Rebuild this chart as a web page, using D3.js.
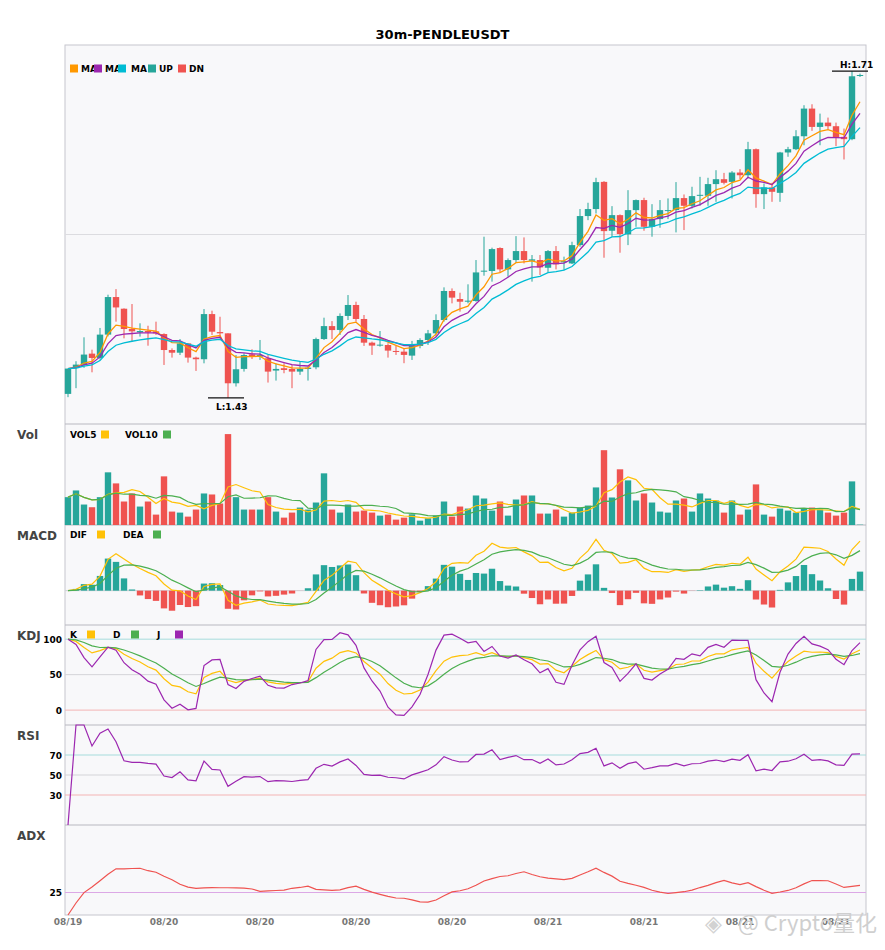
<!DOCTYPE html>
<html>
<head>
<meta charset="utf-8">
<script src="https://cdn.jsdelivr.net/npm/d3@7"></script>
<style>
  body { margin: 0; background: #fff; }
  svg { display: block; font-family: "DejaVu Sans", sans-serif; }
</style>
</head>
<body>
<svg id="chart" width="885" height="950"></svg>
<script>
// 30m candles, PENDLE/USDT
var opens = [1.4334,1.4555,1.4585,1.4679,1.4642,1.4842,1.5164,1.5064,1.4890,1.4861,
  1.4873,1.4870,1.4847,1.4710,1.4687,1.4767,1.4645,1.4631,1.5018,1.4864,
  1.4853,1.4425,1.4548,1.4673,1.4653,1.4639,1.4534,1.4554,1.4548,1.4525,
  1.4548,1.4562,1.4804,1.4915,1.4882,1.5002,1.5096,1.4976,1.4773,1.4748,
  1.4753,1.4702,1.4696,1.4662,1.4745,1.4796,1.4853,1.4967,1.5216,1.5147,
  1.5124,1.5130,1.5384,1.5387,1.5584,1.5401,1.5481,1.5558,1.5475,1.5481,
  1.5415,1.5558,1.5461,1.5452,1.5609,1.5858,1.5918,1.6151,1.5732,1.5866,
  1.5701,1.5909,1.5995,1.5766,1.5832,1.5903,1.5909,1.6012,1.5946,1.6032,
  1.6032,1.6132,1.6174,1.6151,1.6231,1.6208,1.6431,1.6046,1.6103,1.6057,
  1.6403,1.6431,1.6542,1.6779,1.6622,1.6659,1.6628,1.6537,1.6517,1.7062];
var highs = [1.4551,1.4614,1.4819,1.4713,1.4899,1.5184,1.5232,1.5067,1.5104,1.4939,
  1.4918,1.4953,1.4853,1.4724,1.4804,1.4767,1.4653,1.5061,1.5047,1.4995,
  1.4853,1.4667,1.4682,1.4716,1.4796,1.4667,1.4596,1.4596,1.4582,1.4611,
  1.4568,1.4816,1.4987,1.4958,1.5024,1.5181,1.5124,1.5010,1.4782,1.4873,
  1.4768,1.4745,1.4725,1.4788,1.4811,1.4882,1.5016,1.5247,1.5238,1.5201,
  1.5273,1.5481,1.5681,1.5587,1.5590,1.5495,1.5686,1.5675,1.5524,1.5524,
  1.5567,1.5601,1.5510,1.5638,1.5918,1.5972,1.6186,1.6157,1.5943,1.5872,
  1.6080,1.6000,1.6015,1.5960,1.5995,1.6009,1.6149,1.6043,1.6109,1.6194,
  1.6186,1.6251,1.6228,1.6243,1.6260,1.6494,1.6437,1.6137,1.6143,1.6408,
  1.6451,1.6594,1.6808,1.6816,1.6736,1.6702,1.6659,1.6608,1.7100,1.7079];
var lows = [1.4306,1.4383,1.4557,1.4519,1.4628,1.4827,1.4953,1.4810,1.4782,1.4825,
  1.4747,1.4839,1.4582,1.4645,1.4667,1.4602,1.4531,1.4596,1.4839,1.4816,
  1.4300,1.4397,1.4525,1.4633,1.4625,1.4431,1.4448,1.4511,1.4383,1.4497,
  1.4448,1.4545,1.4796,1.4804,1.4839,1.4967,1.4953,1.4745,1.4668,1.4739,
  1.4645,1.4668,1.4597,1.4625,1.4725,1.4753,1.4825,1.4953,1.5110,1.5039,
  1.5110,1.5124,1.5347,1.5296,1.5373,1.5338,1.5458,1.5452,1.5296,1.5353,
  1.5375,1.5401,1.5395,1.5447,1.5595,1.5823,1.5880,1.5501,1.5681,1.5544,
  1.5609,1.5766,1.5732,1.5681,1.5758,1.5832,1.5718,1.5738,1.5923,1.5946,
  1.5946,1.5980,1.6129,1.6009,1.6174,1.6180,1.5929,1.5918,1.5980,1.5980,
  1.6366,1.6423,1.6465,1.6588,1.6465,1.6599,1.6457,1.6343,1.6508,1.7050];
var closes = [1.4551,1.4585,1.4671,1.4642,1.4842,1.5164,1.5075,1.4890,1.4870,1.4873,
  1.4861,1.4853,1.4710,1.4687,1.4767,1.4645,1.4631,1.5018,1.4867,1.4853,
  1.4425,1.4545,1.4667,1.4653,1.4667,1.4525,1.4548,1.4539,1.4525,1.4548,
  1.4559,1.4804,1.4915,1.4881,1.5002,1.5096,1.4976,1.4773,1.4748,1.4756,
  1.4705,1.4694,1.4668,1.4745,1.4796,1.4853,1.4967,1.5216,1.5159,1.5124,
  1.5133,1.5375,1.5390,1.5575,1.5401,1.5481,1.5558,1.5481,1.5487,1.5418,
  1.5558,1.5444,1.5472,1.5609,1.5858,1.5918,1.6149,1.5729,1.5866,1.5704,
  1.5909,1.5995,1.5766,1.5832,1.5909,1.5909,1.6012,1.5946,1.6029,1.6040,
  1.6132,1.6174,1.6143,1.6231,1.6208,1.6431,1.6046,1.6103,1.6066,1.6403,
  1.6431,1.6542,1.6779,1.6622,1.6659,1.6628,1.6528,1.6517,1.7056,1.7067];
var volumes = [83,103,61,53,83,157,124,70,94,55,
  70,31,145,40,37,25,46,94,91,64,
  271,83,46,46,46,83,40,22,37,52,
  46,67,154,46,37,61,40,43,37,28,
  31,16,22,32,13,20,28,70,25,55,
  49,88,79,43,70,28,76,88,88,34,
  34,46,25,37,52,58,112,223,82,166,
  133,73,94,67,40,37,73,79,40,94,
  79,73,37,73,31,46,121,31,25,49,
  43,37,49,52,46,37,28,37,130,1].map(function (v) { return v * 1000; });

var xTickIndex = [0, 12, 24, 36, 48, 60, 72, 84, 96];
var xTickText = ["08/19", "08/20", "08/20", "08/20", "08/20", "08/21", "08/21", "08/21", "08/21"];
var maPeriods = [5, 8, 13];
var macdPeriods = [6, 13, 5];
var kdjLevels = [100, 50, 0];
var rsiLevels = [70, 50, 30];
var adxLevels = [25];

var colors = {
  up: "#26a69a", dn: "#ef5350",
  ma: ["#ff9800", "#9c27b0", "#00bcd4"],
  yellow: "#ffc107", green: "#4caf50", purple: "#9c27b0",
  adx: "#ef5350"
};

// ---- indicator helpers ----
function ema(arr, alpha) {
  var out = [], prev = arr[0];
  arr.forEach(function (v, i) {
    prev = i === 0 ? v : prev + alpha * (v - prev);
    out.push(prev);
  });
  return out;
}
// weighted ewm (pandas adjust=True)
function ewmAdj(arr, alpha) {
  var num = 0, den = 0;
  return arr.map(function (v) {
    num = num * (1 - alpha) + v;
    den = den * (1 - alpha) + 1;
    return num / den;
  });
}
function sma(arr, n) {
  return arr.map(function (v, i) {
    return d3.mean(arr.slice(Math.max(0, i - n + 1), i + 1));
  });
}

var n = closes.length;
var maLines = maPeriods.map(function (p) { return ema(closes, 2 / (p + 1)); });
var vol5 = sma(volumes, 5), vol10 = sma(volumes, 10);

var eFast = ema(closes, 2 / (macdPeriods[0] + 1)), eSlow = ema(closes, 2 / (macdPeriods[1] + 1));
var dif = eFast.map(function (v, i) { return v - eSlow[i]; });
var dea = ema(dif, 2 / (macdPeriods[2] + 1));
var hist = dif.map(function (v, i) { return 2 * (v - dea[i]); });

var rsv = closes.map(function (c, i) {
  var lo = d3.min(lows.slice(Math.max(0, i - 8), i + 1));
  var hi = d3.max(highs.slice(Math.max(0, i - 8), i + 1));
  return hi === lo ? 100 : (c - lo) / (hi - lo) * 100;
});
var kLine = ema(rsv, 1 / 3), dLine = ema(kLine, 1 / 3);
var jLine = kLine.map(function (k, i) { return 3 * k - 2 * dLine[i]; });

var gains = [], losses = [];
closes.forEach(function (c, i) {
  if (i === 0) return;
  var d = c - closes[i - 1];
  gains.push(Math.max(d, 0));
  losses.push(Math.max(-d, 0));
});
var avgG = ewmAdj(gains, 1 / 14), avgL = ewmAdj(losses, 1 / 14);
var rsi = [0].concat(avgG.map(function (g, i) {
  return avgL[i] === 0 ? 100 : 100 * g / (g + avgL[i]);
}));

var trs = [], pdm = [], mdm = [];
closes.forEach(function (c, i) {
  if (i === 0) { trs.push(highs[0] - lows[0]); pdm.push(0); mdm.push(0); return; }
  var pc = closes[i - 1];
  trs.push(Math.max(highs[i] - lows[i], Math.abs(highs[i] - pc), Math.abs(lows[i] - pc)));
  var up = highs[i] - highs[i - 1], dn = lows[i - 1] - lows[i];
  pdm.push(up > dn && up > 0 ? up : 0);
  mdm.push(dn > up && dn > 0 ? dn : 0);
});
var a14 = 2 / 15;
var sTr = ema(trs, a14), sP = ema(pdm, a14), sM = ema(mdm, a14);
var dx = sTr.map(function (t, i) {
  var p = 100 * sP[i] / t, m = 100 * sM[i] / t;
  return p + m === 0 ? 0 : 100 * Math.abs(p - m) / (p + m);
});
var adx = ema(dx, a14);

// ---- layout ----
var svg = d3.select("#chart");
var left = 65, right = 866;
var x = d3.scaleBand().domain(d3.range(n)).range([64, 864]);
var cx = function (i) { return x(i) + x.bandwidth() / 2; };
var bw = x.bandwidth() * 0.8;

var panels = [
  { name: "", top: 45, bottom: 424 },
  { name: "Vol", top: 424, bottom: 525 },
  { name: "MACD", top: 525, bottom: 625 },
  { name: "KDJ", top: 625, bottom: 725 },
  { name: "RSI", top: 725, bottom: 825 },
  { name: "ADX", top: 825, bottom: 915 }
];

svg.append("text")
  .attr("x", 442.5).attr("y", 39)
  .attr("text-anchor", "middle")
  .attr("font-size", 13).attr("font-weight", "bold")
  .text("30m-PENDLEUSDT");

svg.append("rect")
  .attr("x", left).attr("y", 45)
  .attr("width", right - left).attr("height", 915 - 45)
  .attr("fill", "#f8f8fa").attr("stroke", "#c6c6ce");

panels.forEach(function (p, k) {
  if (k > 0) {
    svg.append("line")
      .attr("x1", left).attr("x2", right)
      .attr("y1", p.top).attr("y2", p.top)
      .attr("stroke", "#b8b8c0");
    svg.append("text")
      .attr("x", 17).attr("y", p.top + 14.5)
      .attr("font-size", 12).attr("font-weight", "bold")
      .attr("fill", "#444")
      .text(p.name);
  }
});

function hline(y, val, color) {
  svg.append("line")
    .attr("x1", left).attr("x2", right)
    .attr("y1", y(val)).attr("y2", y(val))
    .attr("stroke", color).attr("stroke-width", 1);
}
function tickLabel(y, val) {
  svg.append("text")
    .attr("x", 62).attr("y", y(val) + 3.5)
    .attr("text-anchor", "end")
    .attr("font-size", 9).attr("font-weight", "bold")
    .text(val);
}
function drawLine(data, y, color, w) {
  svg.append("path")
    .datum(data)
    .attr("fill", "none")
    .attr("stroke", color)
    .attr("stroke-width", w || 1.2)
    .attr("d", d3.line().x(function (d, i) { return cx(i); }).y(function (d) { return y(d); }));
}
function legend(items, yBase) {
  items.forEach(function (it) {
    svg.append("text")
      .attr("x", it.tx).attr("y", yBase)
      .attr("font-size", 9).attr("font-weight", "bold")
      .text(it.t);
    svg.append("rect")
      .attr("x", it.sx).attr("y", yBase - 7.5)
      .attr("width", 8).attr("height", 8)
      .attr("fill", it.c);
  });
}

// ---- main candles ----
var lo = d3.min(lows), hi = d3.max(highs), pad = (hi - lo) * 0.08;
var yP = d3.scaleLinear().domain([lo - pad, hi + pad]).range([424, 45]);
hline(yP, (lo + hi) / 2, "#dcdce0");

var isUp = function (i) { return closes[i] >= opens[i]; };
var candles = svg.append("g").selectAll("g").data(d3.range(n)).enter().append("g");
candles.append("line")
  .attr("x1", cx).attr("x2", cx)
  .attr("y1", function (i) { return yP(highs[i]); })
  .attr("y2", function (i) { return yP(lows[i]); })
  .attr("stroke", function (i) { return isUp(i) ? colors.up : colors.dn; });
candles.append("rect")
  .attr("x", function (i) { return cx(i) - bw / 2; })
  .attr("width", bw)
  .attr("y", function (i) { return yP(Math.max(opens[i], closes[i])); })
  .attr("height", function (i) { return Math.max(1, Math.abs(yP(opens[i]) - yP(closes[i]))); })
  .attr("fill", function (i) { return isUp(i) ? colors.up : colors.dn; });

maLines.forEach(function (m, k) { drawLine(m, yP, colors.ma[k], 1.3); });

var iHi = d3.maxIndex(highs), iLo = d3.minIndex(lows);
[[iHi, highs[iHi], "H:", -3.5], [iLo, lows[iLo], "L:", 12]].forEach(function (m) {
  var xx = cx(m[0]), yy = yP(m[1]);
  svg.append("line").attr("x1", xx - 20).attr("x2", xx + 16)
    .attr("y1", yy).attr("y2", yy).attr("stroke", "#111").attr("stroke-width", 1.2);
  svg.append("text").attr("x", xx - 12).attr("y", yy + m[3])
    .attr("font-size", 9).attr("font-weight", "bold")
    .text(m[2] + d3.format(".2f")(m[1]));
});

legend([
  { t: "MA", tx: 81, sx: 70, c: colors.ma[0] },
  { t: "MA", tx: 105, sx: 94, c: colors.ma[1] },
  { t: "MA", tx: 131, sx: 118, c: colors.ma[2] },
  { t: "UP", tx: 159, sx: 148, c: colors.up },
  { t: "DN", tx: 189, sx: 178, c: colors.dn }
], 72);

// ---- volume ----
var yV = d3.scaleLinear().domain([0, d3.max(volumes) * 1.1]).range([525, 425]);
svg.append("g").selectAll("rect").data(volumes).enter().append("rect")
  .attr("x", function (d, i) { return cx(i) - bw / 2; })
  .attr("width", bw)
  .attr("y", function (d) { return yV(d); })
  .attr("height", function (d) { return yV(0) - yV(d); })
  .attr("fill", function (d, i) { return isUp(i) ? colors.up : colors.dn; });
drawLine(vol5, yV, colors.yellow);
drawLine(vol10, yV, colors.green);
legend([
  { t: "VOL5", tx: 70, sx: 101, c: colors.yellow },
  { t: "VOL10", tx: 125, sx: 163, c: colors.green }
], 438);

// ---- MACD ----
var mExt = d3.extent(dif.concat(dea, hist));
var mPad = (mExt[1] - mExt[0]) * 0.2;
var yM = d3.scaleLinear().domain([mExt[0] - mPad, mExt[1] + mPad]).range([625, 525]);
hline(yM, 0, "#d0d0d6");
svg.append("g").selectAll("rect").data(hist).enter().append("rect")
  .attr("x", function (d, i) { return cx(i) - bw / 2; })
  .attr("width", bw)
  .attr("y", function (d) { return yM(Math.max(0, d)); })
  .attr("height", function (d) { return Math.abs(yM(d) - yM(0)); })
  .attr("fill", function (d) { return d >= 0 ? colors.up : colors.dn; });
drawLine(dif, yM, colors.yellow);
drawLine(dea, yM, colors.green);
legend([
  { t: "DIF", tx: 70, sx: 97, c: colors.yellow },
  { t: "DEA", tx: 123, sx: 153, c: colors.green }
], 538);

// ---- KDJ ----
var yK = d3.scaleLinear().domain([-21, 120]).range([725, 625]);
hline(yK, 100, "#a6dcdc");
hline(yK, 50, "#d4d4d8");
hline(yK, 0, "#f4b4b4");
kdjLevels.forEach(function (v) { tickLabel(yK, v); });
drawLine(kLine, yK, colors.yellow);
drawLine(dLine, yK, colors.green);
drawLine(jLine, yK, colors.purple);
legend([
  { t: "K", tx: 70, sx: 87, c: colors.yellow },
  { t: "D", tx: 113, sx: 131, c: colors.green },
  { t: "J", tx: 157, sx: 175, c: colors.purple }
], 638);

// ---- RSI ----
var yR = d3.scaleLinear().domain([0, 100]).range([825, 725]);
hline(yR, 70, "#a6dcdc");
hline(yR, 50, "#d4d4d8");
hline(yR, 30, "#f4b4b4");
rsiLevels.forEach(function (v) { tickLabel(yR, v); });
drawLine(rsi, yR, colors.purple);

// ---- ADX ----
var yA = d3.scaleLinear().domain([0, 100]).range([915, 825]);
hline(yA, 25, "#dca8e6");
adxLevels.forEach(function (v) { tickLabel(yA, v); });
drawLine(adx, yA, colors.adx);

// ---- x axis labels ----
xTickIndex.forEach(function (idx, k) {
  svg.append("text")
    .attr("x", cx(idx)).attr("y", 925)
    .attr("text-anchor", "middle")
    .attr("font-size", 9).attr("font-weight", "bold")
    .attr("fill", "#777")
    .text(xTickText[k]);
});

// watermark
svg.append("text")
  .attr("x", 705).attr("y", 931)
  .attr("font-size", 22).attr("fill", "#d2d2d2")
  .attr("font-family", "DejaVu Sans")
  .text("◈");
svg.append("text")
  .attr("x", 738).attr("y", 931)
  .attr("font-size", 22).attr("fill", "#cfcfcf")
  .attr("font-family", "'Noto Sans CJK SC', 'Noto Sans', sans-serif")
  .text("@ Crypto量化");
</script>
</body>
</html>
